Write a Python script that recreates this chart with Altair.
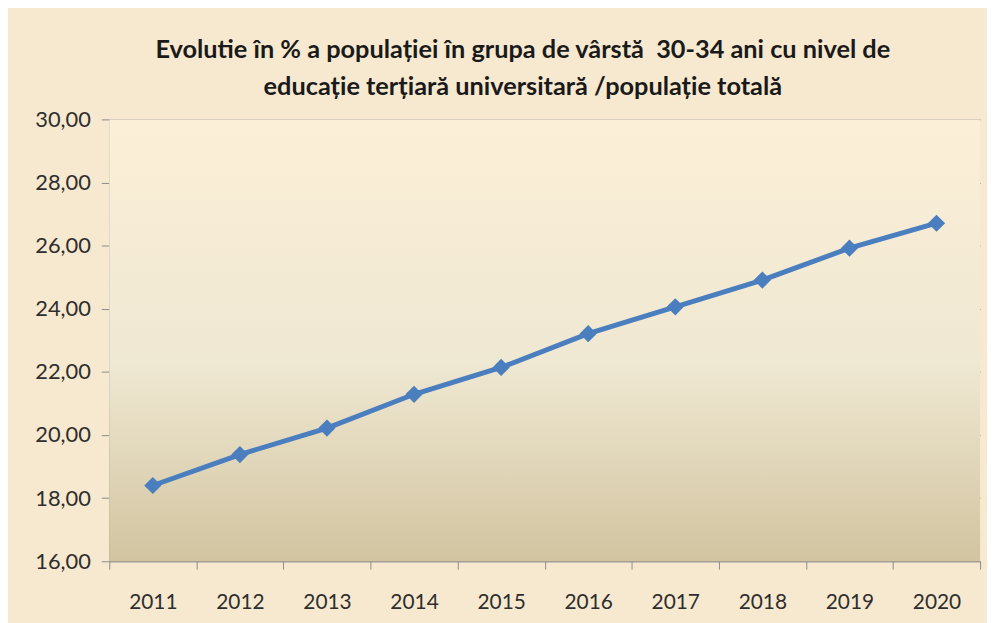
import altair as alt
import pandas as pd

years = ["2011", "2012", "2013", "2014", "2015", "2016", "2017", "2018", "2019", "2020"]
values = [18.40, 19.38, 20.22, 21.29, 22.14, 23.21, 24.06, 24.91, 25.92, 26.71]

df = pd.DataFrame({"an": years, "procent": values})

title_lines = [
    "Evolutie în % a populației în grupa de vârstă \u00a030-34 ani cu nivel de",
    "educație terțiară universitară /populație totală",
]

FONT = "Lato"
LINE_COLOR = "#4a7ebf"
TEXT_COLOR = "#2e2e2e"

plot_bg = alt.Chart(pd.DataFrame({"k": [0]})).mark_rect(
    color=alt.Gradient(
        gradient="linear",
        x1=0, y1=0, x2=0, y2=1,
        stops=[
            alt.GradientStop(offset=0, color="#fcefd7"),
            alt.GradientStop(offset=0.55, color="#efe8d2"),
            alt.GradientStop(offset=1, color="#d2c4a0"),
        ],
    )
).encode(
    x=alt.value(0), x2=alt.value("width"), y=alt.value(0), y2=alt.value("height")
)

base = alt.Chart(df).encode(
    x=alt.X(
        "an:N",
        sort=years,
        title=None,
        scale=alt.Scale(paddingInner=0, paddingOuter=0),
        axis=alt.Axis(
            labelAngle=0,
            labelFont=FONT,
            labelFontSize=21,
            labelColor=TEXT_COLOR,
            labelPadding=23,
            tickBand="extent",
            tickSize=8,
            tickColor="#8c8c8c",
            domainColor="#8c8c8c",
            grid=False,
        ),
    ),
    y=alt.Y(
        "procent:Q",
        title=None,
        scale=alt.Scale(domain=[16, 30], nice=False, zero=False),
        axis=alt.Axis(
            values=[16, 18, 20, 22, 24, 26, 28, 30],
            labelExpr="replace(format(datum.value, '.2f'), '.', ',')",
            labelFont=FONT,
            labelFontSize=22,
            labelColor=TEXT_COLOR,
            labelPadding=11,
            tickSize=8,
            tickColor="#8c8c8c",
            domainColor="#8c8c8c",
            gridColor="#8c8c8c",
            gridWidth=1,
        ),
    ),
)

line = base.mark_line(color=LINE_COLOR, strokeWidth=5)
points = base.mark_point(shape="diamond", filled=True, size=300, color=LINE_COLOR, opacity=1)

chart = (
    alt.layer(plot_bg, line, points)
    .properties(
        width=877,
        height=445,
        title=alt.TitleParams(
            text=title_lines,
            font=FONT,
            fontSize=25.5,
            fontWeight="bold",
            color="#1a1a1a",
            anchor="middle",
            lineHeight=37,
            offset=8,
            dx=-22,
        ),
        background="#f7e9cf",
        padding={"left": 102, "top": 110, "right": 7, "bottom": 60},
        autosize=alt.AutoSizeParams(type="none"),
    )
    .configure_view(stroke=None)
)

chart.save("out.html", embed_options={"renderer": "svg", "actions": False})
